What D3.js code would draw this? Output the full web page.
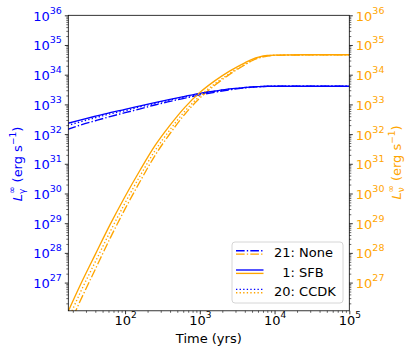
<!DOCTYPE html>
<html>
<head>
<meta charset="utf-8">
<script src="https://cdn.jsdelivr.net/npm/d3@7"></script>
<style>
  html, body { margin: 0; padding: 0; background: #fff; }
  svg { display: block; font-family: "DejaVu Sans", sans-serif; }
</style>
</head>
<body>
<div id="chart"></div>
<script>
// cooling curves: photon (left, blue) and neutrino (right, orange) luminosity

// time samples (yrs)
var times = [17, 25, 40, 63, 100, 160, 250, 400, 630, 1000, 1600, 2500, 4000, 5000, 6300, 8000, 10000, 25000, 100000];

// log10 L_gamma (erg/s), left axis
var gammaNone = [32.16, 32.3, 32.45, 32.59, 32.72, 32.85, 32.98, 33.1, 33.21, 33.32, 33.41, 33.49, 33.555, 33.58, 33.595, 33.605, 33.61, 33.61, 33.61];
var gammaSFB  = [32.36, 32.47, 32.6, 32.72, 32.83, 32.95, 33.06, 33.17, 33.27, 33.37, 33.45, 33.52, 33.57, 33.59, 33.6, 33.61, 33.61, 33.61, 33.61];
var gammaCCDK = [32.29, 32.41, 32.55, 32.68, 32.79, 32.92, 33.03, 33.15, 33.25, 33.35, 33.44, 33.51, 33.565, 33.585, 33.6, 33.61, 33.61, 33.61, 33.61];

// log10 L_nu (erg/s), right axis
var nuNone = [25.43, 26.37, 27.45, 28.49, 29.48, 30.42, 31.27, 32.02, 32.67, 33.21, 33.65, 34.01, 34.33, 34.47, 34.57, 34.63, 34.65, 34.665, 34.67];
var nuSFB  = [25.98, 26.9, 27.95, 28.95, 29.9, 30.8, 31.6, 32.3, 32.9, 33.4, 33.8, 34.12, 34.4, 34.52, 34.6, 34.645, 34.66, 34.67, 34.67];
var nuCCDK = [25.71, 26.65, 27.7, 28.71, 29.68, 30.61, 31.43, 32.15, 32.77, 33.28, 33.7, 34.04, 34.35, 34.485, 34.58, 34.635, 34.655, 34.67, 34.67];

var labels = ["21: None", "1: SFB", "20: CCDK"];
var xTicks = [100, 1000, 10000, 100000];
var yTickExps = [27, 28, 29, 30, 31, 32, 33, 34, 35, 36];

var W = 415, H = 356;
var pLeft = 68.3, pRight = 349.3, pTop = 15.3, pBottom = 310.8;
var BLUE = "#0000ff", ORANGE = "#ffa500";
var lw = 1.35;
var dashes = { none: (6.4 * lw) + "," + (1.6 * lw) + "," + lw + "," + (1.6 * lw), sfb: null, ccdk: lw + "," + (1.65 * lw) };

var svg = d3.select("#chart").append("svg").attr("width", W).attr("height", H);

var x = d3.scaleLog().domain([17.4, 1e5]).range([pLeft, pRight]);
var y = d3.scaleLog().domain([Math.pow(10, 26.05), 1e36]).range([pBottom, pTop]);

// minor ticks for log axes
function minors(scale) {
    var d = scale.domain(), out = [];
    var lo = Math.floor(Math.log10(d[0])), hi = Math.ceil(Math.log10(d[1]));
    for (var e = lo; e < hi; e++) {
        for (var k = 2; k <= 9; k++) {
            var v = k * Math.pow(10, e);
            if (v >= d[0] && v <= d[1]) out.push(v);
        }
    }
    return out;
}

svg.append("defs").append("clipPath").attr("id", "clip")
    .append("rect").attr("x", pLeft).attr("y", pTop).attr("width", pRight - pLeft).attr("height", pBottom - pTop);

var line = d3.line()
    .x(function(d) { return x(d[0]); })
    .y(function(d) { return y(Math.pow(10, d[1])); })
    .curve(d3.curveMonotoneX);

var series = [
    { v: gammaNone, c: BLUE, dash: dashes.none },
    { v: nuNone, c: ORANGE, dash: dashes.none },
    { v: gammaSFB, c: BLUE, dash: dashes.sfb },
    { v: nuSFB, c: ORANGE, dash: dashes.sfb },
    { v: gammaCCDK, c: BLUE, dash: dashes.ccdk },
    { v: nuCCDK, c: ORANGE, dash: dashes.ccdk }
];

var plot = svg.append("g").attr("clip-path", "url(#clip)");
series.forEach(function(s) {
    plot.append("path")
        .datum(times.map(function(t, i) { return [t, s.v[i]]; }))
        .attr("d", line)
        .attr("fill", "none")
        .attr("stroke", s.c)
        .attr("stroke-width", lw)
        .attr("stroke-dasharray", s.dash);
});

// axes
function styleAxis(g, width) {
    g.select(".domain").remove();
    g.selectAll(".tick line").attr("stroke", "#000").attr("stroke-width", width);
}

function sup(sel, fs) {
    sel.each(function(d) {
        var t = d3.select(this);
        var e = Math.round(Math.log10(d));
        t.text("10").attr("font-size", 13);
        t.append("tspan").attr("dy", -7).attr("font-size", fs).text(e);
    });
}

var gx = svg.append("g").attr("transform", "translate(0," + pBottom + ")");
gx.call(d3.axisBottom(x).tickValues(minors(x)).tickSize(2).tickFormat(""))
  .call(styleAxis, 0.6);
var gxM = svg.append("g").attr("transform", "translate(0," + pBottom + ")");
gxM.call(d3.axisBottom(x).tickValues(xTicks).tickSize(3.5))
   .call(styleAxis, 0.8);
gxM.selectAll(".tick text").attr("y", 14.5).attr("dy", 0).attr("fill", "#000").attr("font-family", "DejaVu Sans")
   .call(sup, 9);

var yMaj = yTickExps.map(function(e) { return Math.pow(10, e); });

[{ pos: pLeft, gen: d3.axisLeft, col: BLUE }, { pos: pRight, gen: d3.axisRight, col: ORANGE }].forEach(function(a) {
    var g1 = svg.append("g").attr("transform", "translate(" + a.pos + ",0)");
    g1.call(a.gen(y).tickValues(minors(y)).tickSize(2).tickFormat("")).call(styleAxis, 0.6);
    var g2 = svg.append("g").attr("transform", "translate(" + a.pos + ",0)");
    g2.call(a.gen(y).tickValues(yMaj).tickSize(3.5).tickPadding(3)).call(styleAxis, 0.8);
    g2.selectAll(".tick text").attr("dy", 5).attr("fill", a.col).attr("font-family", "DejaVu Sans")
      .call(sup, 9.5);
});

// spines
svg.append("rect")
    .attr("x", pLeft).attr("y", pTop).attr("width", pRight - pLeft).attr("height", pBottom - pTop)
    .attr("fill", "none").attr("stroke", "#000").attr("stroke-width", 0.8);

// axis labels
svg.append("text").attr("x", (pLeft + pRight) / 2).attr("y", 343)
    .attr("text-anchor", "middle").attr("font-size", 13).text("Time (yrs)");

function yLabel(cx, cy, col, sub) {
    var t = svg.append("text")
        .attr("transform", "translate(" + cx + "," + cy + ") rotate(-90)")
        .attr("text-anchor", "middle").attr("font-size", 13).attr("fill", col);
    t.append("tspan").attr("font-style", "italic").text("L");
    t.append("tspan").attr("font-size", 9).attr("dy", 3).text(sub);
    t.append("tspan").attr("font-size", 9).attr("dx", -5.4).attr("dy", -10).text("\u221e");
    t.append("tspan").attr("dy", 7).text(" (erg s");
    t.append("tspan").attr("font-size", 9).attr("dy", -6).text("\u22121");
    t.append("tspan").attr("dy", 6).text(")");
}
yLabel(22, 164, BLUE, "\u03b3");
yLabel(400.5, 162.5, ORANGE, "\u03bd");

// legend
var lg = svg.append("g");
lg.append("rect").attr("x", 232).attr("y", 242).attr("width", 111).attr("height", 61)
    .attr("rx", 3).attr("fill", "#fff").attr("fill-opacity", 0.8)
    .attr("stroke", "#cccccc").attr("stroke-width", 0.8);
var legDash = [dashes.none, dashes.sfb, dashes.ccdk];
labels.forEach(function(lab, i) {
    var cy = 252.4 + i * 19.3;
    lg.append("line").attr("x1", 236).attr("x2", 263.5).attr("y1", cy - 1.7).attr("y2", cy - 1.7)
        .attr("stroke", BLUE).attr("stroke-width", lw).attr("stroke-dasharray", legDash[i]);
    lg.append("line").attr("x1", 236).attr("x2", 263.5).attr("y1", cy + 1.7).attr("y2", cy + 1.7)
        .attr("stroke", ORANGE).attr("stroke-width", lw).attr("stroke-dasharray", legDash[i]);
    lg.append("text").attr("x", i === 1 ? 282.3 : 274).attr("y", cy + 4.8)
        .attr("font-size", 13).text(lab);
});
</script>
</body>
</html>
